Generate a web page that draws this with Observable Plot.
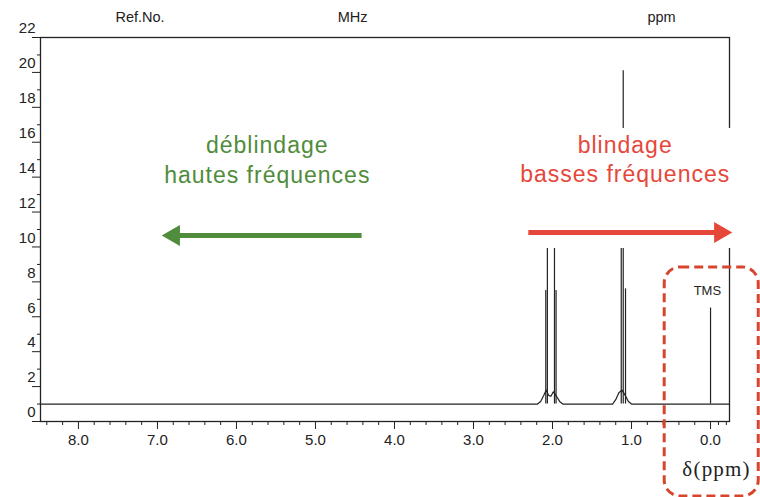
<!DOCTYPE html>
<html><head><meta charset="utf-8">
<script src="https://cdn.jsdelivr.net/npm/d3@7"></script>
<script src="https://cdn.jsdelivr.net/npm/@observablehq/plot@0.6"></script>
<style>
html,body{margin:0;padding:0;background:#fff;}
</style></head><body><div id="chart"></div>
<script>
// ---- data ----
const xMajorTicks = [0, 1, 2, 3, 4, 5, 6, 7, 8];
const xMinorTicks = [-0.2, -0.1, 0.2, 0.4, 0.6, 0.8, 1.2, 1.4, 1.6, 1.8, 2.2, 2.4, 2.6, 2.8, 3.2, 3.4, 3.6, 3.8, 4.2, 4.4, 4.6, 4.8, 5.2, 5.4, 5.6, 5.8, 6.2, 6.4, 6.6, 6.8, 7.2, 7.4, 7.6, 7.8, 8.2, 8.4];
const yMajorTicks = [0, 2, 4, 6, 8, 10, 12, 14, 16, 18, 20, 22];
const yMinorTicks = [1, 3, 5, 7, 9, 11, 13, 15, 17, 19, 21];

const baseline = 1.0;
// broad spectrum trace (ppm, intensity)
const tracePpm = [8.48, 2.19, 2.15, 2.11, 2.08, 2.05, 2.02, 1.99, 1.95, 1.91, 1.87, 1.24, 1.20, 1.16, 1.12, 1.08, 1.04, 1.00, -0.24];
const traceInt = [1.0, 1.0, 1.15, 1.5, 1.8, 1.5, 1.45, 1.7, 1.45, 1.15, 1.0, 1.0, 1.25, 1.65, 1.8, 1.5, 1.15, 1.0, 1.0];
// sharp lines (ppm, height)
const peakPpm = [2.085, 2.065, 1.975, 1.955, 1.13, 1.105, 1.076, 0.0];
const peakHeight = [7.5, 15, 15, 7.5, 16, 20.1, 7.6, 6.5];

const headerLabels = ["Ref.No.", "MHz", "ppm"];
const headerPpm = [7.22, 4.53, 0.62];
const headerLevel = 23.15;

const annoText = ["déblindage", "hautes fréquences", "blindage", "basses fréquences"];
const annoSide = ["deshield", "deshield", "shield", "shield"];
const annoPpm = [5.61, 5.61, 1.08, 1.08];
const annoLevel = [15.8, 14.1, 15.8, 14.15];

const arrowSide = ["deshield", "shield"];
const arrowFrom = [4.41, 2.30];
const arrowTo = [6.94, -0.27];
const arrowLevel = [10.66, 10.83];

const maskBox = [{x1: 2.45, x2: -0.36, y1: 9.91, y2: 16.79}];
const tmsBox = [{x1: 0.58, x2: -0.61, y1: -4.30, y2: 8.83}];
const tmsLabel = [{text: "TMS", ppm: 0.04, level: 7.5}];
const deltaLabel = [{text: "δ(ppm)", ppm: -0.076, level: -2.75}];

// ---- tables built from arrays ----
const trace = tracePpm.map((p, i) => ({ppm: p, v: traceInt[i]}));
const peaks = peakPpm.map((p, i) => ({ppm: p, h: peakHeight[i]}));
const header = headerLabels.map((t, i) => ({text: t, ppm: headerPpm[i]}));
const anno = annoText.map((t, i) => ({text: t, side: annoSide[i], ppm: annoPpm[i], level: annoLevel[i]}));
const arrows = arrowSide.map((s, i) => ({side: s, from: arrowFrom[i], to: arrowTo[i], level: arrowLevel[i]}));

const GREEN = "#4f8c3b";
const RED = "#e6473b";
const BOX_RED = "#d8452e";
const INK = "#222";
const sideColor = d => d.side === "deshield" ? GREEN : RED;

const chart = Plot.plot({
  width: 760,
  height: 497,
  marginLeft: 40,
  marginRight: 31,
  marginTop: 37,
  marginBottom: 76,
  style: {fontFamily: "'Liberation Sans', Arial, sans-serif", background: "#fff", color: INK, overflow: "visible"},
  x: {domain: [8.48, -0.24]},
  y: {domain: [0, 22]},
  marks: [
    Plot.axisX({ticks: xMajorTicks, tickSize: 8, tickPadding: 5, tickFormat: d3.format(".1f"), fontSize: 15, label: null}),
    Plot.axisX({ticks: xMinorTicks, tickSize: 4, tickFormat: () => "", label: null}),
    Plot.axisY({ticks: yMajorTicks, tickSize: 8, tickFormat: () => "", label: null}),
    Plot.axisY({ticks: yMinorTicks, tickSize: 3, tickFormat: () => "", label: null}),
    Plot.axisY({ticks: yMajorTicks, tickSize: 0, tickPadding: 5, dy: -9, fontSize: 15, tickFormat: d => String(d), label: null}),
    Plot.frame({stroke: INK, strokeWidth: 1.3}),
    Plot.line(trace, {x: "ppm", y: "v", stroke: INK, strokeWidth: 1.2}),
    Plot.ruleX(peaks, {x: "ppm", y1: baseline, y2: "h", stroke: INK, strokeWidth: 1.2}),
    Plot.rect(maskBox, {x1: "x1", x2: "x2", y1: "y1", y2: "y2", fill: "#fff"}),
    Plot.text(header, {x: "ppm", y: () => headerLevel, text: "text", fontSize: 14.5, fill: INK}),
    Plot.text(anno, {x: "ppm", y: "level", text: "text", fill: sideColor, fontSize: 23}),
    Plot.ruleY(arrows.filter(d => d.side === "deshield"), {y: "level", x1: "to", x2: "from", stroke: GREEN, strokeWidth: 5, insetLeft: 10}),
    Plot.ruleY(arrows.filter(d => d.side === "shield"), {y: "level", x1: "from", x2: "to", stroke: RED, strokeWidth: 5, insetRight: 10}),
    Plot.dot(arrows.filter(d => d.side === "deshield"), {x: "to", y: "level", symbol: "triangle", rotate: -90, r: 7.8, fill: GREEN, stroke: "none", dx: 11.7}),
    Plot.dot(arrows.filter(d => d.side === "shield"), {x: "to", y: "level", symbol: "triangle", rotate: 90, r: 7.8, fill: RED, stroke: "none", dx: -11.7}),
    Plot.rect(tmsBox, {x1: "x1", x2: "x2", y1: "y1", y2: "y2", rx: 16, fill: "none", stroke: BOX_RED, strokeWidth: 3, strokeDasharray: "9,5"}),
    Plot.text(tmsLabel, {x: "ppm", y: "level", text: "text", fontSize: 13, fill: INK}),
    Plot.text(deltaLabel, {x: "ppm", y: "level", text: "text", fontSize: 21, fontFamily: "'Liberation Serif', 'Times New Roman', serif", fill: INK})
  ]
});
// widen the annotation lettering slightly, as in the reference
d3.select(chart).selectAll("text")
  .filter(function() { return annoText.includes(this.textContent); })
  .style("letter-spacing", "1px");
d3.select(chart).selectAll("text")
  .filter(function() { return this.textContent === "δ(ppm)"; })
  .style("letter-spacing", "1.2px");
document.getElementById("chart").appendChild(chart);
</script></body></html>
